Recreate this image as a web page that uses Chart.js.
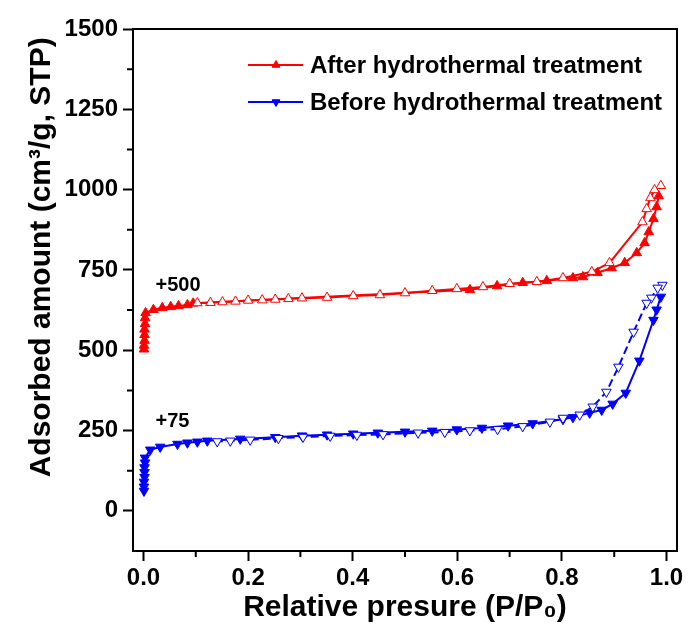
<!DOCTYPE html>
<html>
<head>
<meta charset="utf-8">
<script src="https://cdn.jsdelivr.net/npm/chart.js"></script>
<style>
  html, body { margin: 0; padding: 0; background: #fff; }
  #wrap { width: 689px; height: 642px; }
</style>
</head>
<body>
<div id="wrap"><canvas id="myChart" width="689" height="642"></canvas></div>
<script>
// After hydrothermal treatment (shifted +500), adsorption branch
const afterAdsP = [0.001, 0.001, 0.002, 0.002, 0.002, 0.003, 0.003, 0.004, 0.019, 0.036, 0.052, 0.067, 0.084, 0.095,
  0.624, 0.676, 0.725, 0.771, 0.821, 0.840, 0.868, 0.895, 0.920, 0.943, 0.958, 0.966, 0.975, 0.981, 0.985];
const afterAdsV = [503, 515, 530, 548, 565, 582, 600, 616, 626, 632, 635, 638, 641, 646,
  688, 700, 710, 716, 725, 728, 741, 756, 772, 803, 834, 868, 909, 946, 980];
// After hydrothermal treatment, desorption branch
const afterDesP = [0.989, 0.977, 0.969, 0.962, 0.954, 0.891, 0.857, 0.802, 0.752, 0.700, 0.649, 0.599, 0.552,
  0.500, 0.452, 0.401, 0.351, 0.303, 0.277, 0.252, 0.227, 0.200, 0.176, 0.151, 0.128, 0.103];
const afterDesV = [1012, 999, 974, 940, 899, 772, 744, 725, 713, 707, 697, 691, 685,
  678, 672, 669, 664, 662, 660, 658, 656, 655, 652, 650, 648, 647];

// Before hydrothermal treatment (shifted +75), adsorption branch
const beforeAdsP = [0.001, 0.001, 0.001, 0.002, 0.002, 0.002, 0.003, 0.003, 0.013, 0.032, 0.065, 0.084, 0.103, 0.122,
  0.185, 0.252, 0.303, 0.351, 0.401, 0.448, 0.500, 0.552, 0.599, 0.647, 0.697, 0.744, 0.802, 0.821, 0.853,
  0.876, 0.897, 0.922, 0.948, 0.975, 0.981, 0.989];
const beforeAdsV = [62, 75, 90, 105, 120, 135, 150, 165, 190, 199, 208, 212, 215, 218,
  224, 229, 234, 237, 240, 243, 246, 249, 253, 258, 265, 272, 285, 291, 305,
  314, 333, 367, 467, 594, 626, 666];
// Before hydrothermal treatment, desorption branch
const beforeDesP = [0.992, 0.983, 0.971, 0.962, 0.937, 0.908, 0.885, 0.859, 0.834, 0.802, 0.777, 0.725, 0.677,
  0.624, 0.576, 0.525, 0.458, 0.408, 0.357, 0.305, 0.258, 0.204, 0.166, 0.141];
const beforeDesV = [703, 694, 663, 647, 557, 448, 370, 324, 299, 289, 277, 263, 254,
  250, 245, 243, 238, 236, 233, 230, 226, 221, 218, 216];

const xTicks = [0, 0.2, 0.4, 0.6, 0.8, 1.0];
const xMinor = [0.1, 0.3, 0.5, 0.7, 0.9];
const yTicks = [0, 250, 500, 750, 1000, 1250, 1500];
const yMinor = [125, 375, 625, 875, 1125, 1375];

const seriesNames = ['After hydrothermal treatment', 'Before hydrothermal treatment'];
const noteText = ['+500', '+75'];
const noteX = [0.023, 0.023];
const noteY = [703, 277];

const RED = '#ff0000';
const BLUE = '#0000ff';
const FONT = '"Liberation Sans", Arial, sans-serif';
Chart.defaults.font.family = FONT;
Chart.defaults.color = '#000';

function pts(px, py) {
  return px.map((x, i) => ({ x: x, y: py[i] }));
}

function series(data, color, filled, rot, dash) {
  return {
    data: data,
    showLine: true,
    borderColor: color,
    borderWidth: 2,
    borderDash: dash || [],
    pointStyle: 'triangle',
    rotation: rot,
    pointRadius: 5.5,
    pointBorderWidth: 1,
    pointBorderColor: color,
    pointBackgroundColor: filled ? color : '#fff'
  };
}

const frame = {
  id: 'frame',
  afterDraw(chart) {
    const { ctx, chartArea: a, scales: { x, y } } = chart;
    ctx.save();
    ctx.strokeStyle = '#000';
    ctx.lineWidth = 2;
    ctx.strokeRect(a.left, a.top, a.right - a.left, a.bottom - a.top);

    ctx.beginPath();
    xMinor.forEach(v => {
      const px = x.getPixelForValue(v);
      ctx.moveTo(px, a.bottom);
      ctx.lineTo(px, a.bottom + 6);
    });
    yMinor.forEach(v => {
      const py = y.getPixelForValue(v);
      ctx.moveTo(a.left, py);
      ctx.lineTo(a.left - 6, py);
    });
    ctx.stroke();

    ctx.fillStyle = '#000';
    ctx.font = 'bold 20px ' + FONT;
    ctx.textBaseline = 'middle';
    ctx.textAlign = 'left';
    noteText.forEach((t, i) => {
      ctx.fillText(t, x.getPixelForValue(noteX[i]), y.getPixelForValue(noteY[i]));
    });

    // legend
    const cols = [RED, BLUE];
    const rots = [0, 180];
    ctx.font = 'bold 24px ' + FONT;
    seriesNames.forEach((name, i) => {
      const ly = 65 + i * 37;
      ctx.strokeStyle = cols[i];
      ctx.lineWidth = 2;
      ctx.beginPath();
      ctx.moveTo(248, ly);
      ctx.lineTo(303, ly);
      ctx.stroke();
      ctx.fillStyle = cols[i];
      ctx.strokeStyle = cols[i];
      ctx.lineWidth = 1;
      Chart.helpers.drawPoint(ctx, { pointStyle: 'triangle', radius: 4.5, rotation: rots[i], borderWidth: 1 }, 276, ly);
      ctx.fillStyle = '#000';
      ctx.fillText(name, 310, ly + 1);
    });
    ctx.restore();
  }
};

new Chart(document.getElementById('myChart'), {
  type: 'scatter',
  data: {
    datasets: [
      series(pts(afterDesP, afterDesV), RED, false, 0),
      series(pts(beforeDesP, beforeDesV), BLUE, false, 180, [8, 4]),
      series(pts(afterAdsP, afterAdsV), RED, true, 0),
      series(pts(beforeAdsP, beforeAdsV), BLUE, true, 180)
    ]
  },
  options: {
    responsive: false,
    animation: false,
    layout: { padding: { top: 29, right: 12, left: 0, bottom: 0 } },
    plugins: { legend: { display: false }, tooltip: { enabled: false } },
    scales: {
      x: {
        type: 'linear',
        min: -0.02,
        max: 1.02,
        afterBuildTicks: s => { s.ticks = xTicks.map(v => ({ value: v })); },
        afterFit: s => { s.height = 91; },
        grid: { drawOnChartArea: false, drawTicks: true, tickLength: 10, tickWidth: 2, tickColor: '#000' },
        border: { display: true, color: '#000', width: 2 },
        ticks: {
          autoSkip: false, maxRotation: 0, padding: 3,
          font: { size: 24, weight: 'bold' },
          callback: v => v.toFixed(1)
        },
        title: {
          display: true,
          text: 'Relative presure (P/P\u2080)',
          font: { size: 30, weight: 'bold' },
          padding: { top: 0, bottom: 16 }
        }
      },
      y: {
        type: 'linear',
        min: -125,
        max: 1500,
        afterBuildTicks: s => { s.ticks = yTicks.map(v => ({ value: v })); },
        afterFit: s => { s.width = 133; },
        grid: { drawOnChartArea: false, drawTicks: true, tickLength: 10, tickWidth: 2, tickColor: '#000' },
        border: { display: true, color: '#000', width: 2 },
        ticks: {
          padding: 5,
          font: { size: 24, weight: 'bold' },
          callback: v => String(v)
        },
        title: {
          display: true,
          align: 'end',
          text: 'Adsorbed amount (cm\u00b3/g, STP) ',
          font: { size: 30, weight: 'bold' },
          padding: { top: 24, bottom: 0 }
        }
      }
    }
  },
  plugins: [frame]
});
</script>
</body>
</html>
